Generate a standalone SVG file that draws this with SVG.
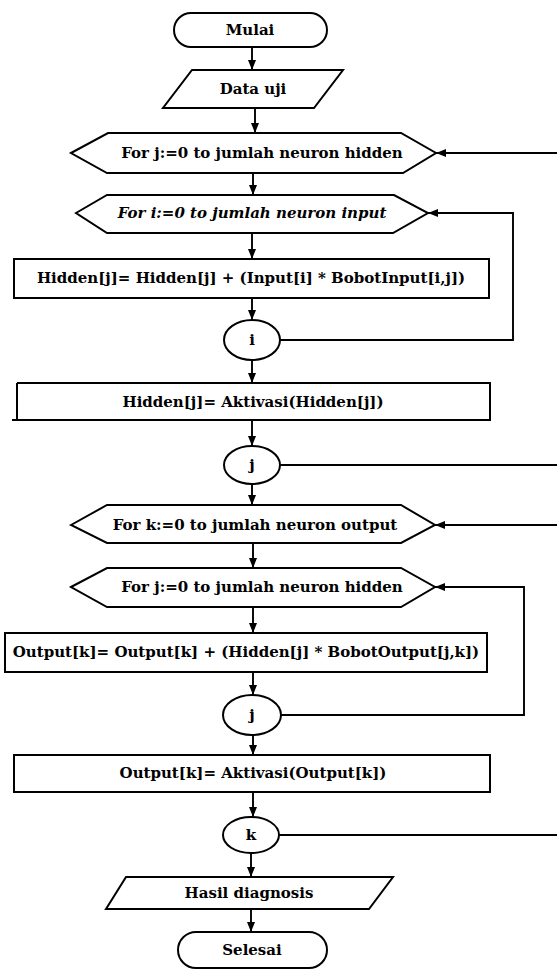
<svg xmlns="http://www.w3.org/2000/svg" width="557" height="971" viewBox="0 0 557 971">
  <style>
    .shape { fill: #ffffff; stroke: #000000; stroke-width: 2; }
    .flow { fill: none; stroke: #000000; stroke-width: 1.9; }
    .arrow { marker-end: url(#head); }
    text { font-family: "DejaVu Serif", "Liberation Serif", serif; font-weight: bold; font-size: 15px; text-anchor: middle; fill: #000000; }
    .it { font-style: italic; }
  </style>
  <defs>
    <marker id="head" viewBox="0 0 10 10" refX="10" refY="5" markerWidth="10" markerHeight="10" markerUnits="userSpaceOnUse" orient="auto">
      <path d="M0,1 L10,5 L0,9 z" fill="#000000"/>
    </marker>
  </defs>
  <rect width="557" height="971" fill="#ffffff"/>

  <!-- connectors -->
  <g id="connectors">
    <line class="flow arrow" x1="252" y1="47" x2="252" y2="70"/>
    <line class="flow arrow" x1="255" y1="108" x2="255" y2="133"/>
    <line class="flow arrow" x1="253" y1="173" x2="253" y2="195"/>
    <line class="flow arrow" x1="252" y1="233" x2="252" y2="259"/>
    <line class="flow arrow" x1="252" y1="298" x2="252" y2="320"/>
    <line class="flow arrow" x1="252" y1="360" x2="252" y2="383"/>
    <line class="flow arrow" x1="252" y1="420" x2="252" y2="446"/>
    <line class="flow arrow" x1="252" y1="484" x2="252" y2="505"/>
    <line class="flow arrow" x1="253" y1="543" x2="253" y2="568"/>
    <line class="flow arrow" x1="253" y1="607" x2="253" y2="633"/>
    <line class="flow arrow" x1="253" y1="672" x2="253" y2="695"/>
    <line class="flow arrow" x1="253" y1="735" x2="253" y2="755"/>
    <line class="flow arrow" x1="253" y1="792" x2="253" y2="817"/>
    <line class="flow arrow" x1="251" y1="853" x2="251" y2="877"/>
    <line class="flow arrow" x1="251" y1="909" x2="251" y2="932"/>
    <!-- inner loop over i -->
    <polyline class="flow arrow" points="280,340 513,340 513,213 428,213"/>
    <!-- outer loop over j (hidden) -->
    <line class="flow" x1="280" y1="465" x2="557" y2="465"/>
    <line class="flow arrow" x1="557" y1="153" x2="436" y2="153"/>
    <!-- inner loop over j (output stage) -->
    <polyline class="flow arrow" points="281,715 524,715 524,587 435,587"/>
    <!-- outer loop over k -->
    <line class="flow" x1="279" y1="835" x2="557" y2="835"/>
    <line class="flow arrow" x1="557" y1="525" x2="435" y2="525"/>
  </g>

  <g id="mulai">
    <rect class="shape" x="174" y="13" width="153" height="34" rx="17"/>
    <text x="250" y="35">Mulai</text>
  </g>
  <g id="data-uji">
    <polygon class="shape" points="192,70 343,70 314,108 163,108"/>
    <text x="253" y="94">Data uji</text>
  </g>
  <g id="for-j-hidden">
    <polygon class="shape" points="71,153 108,133 401,133 436,153 403,173 107,173"/>
    <text x="262" y="158">For j:=0 to jumlah neuron hidden</text>
  </g>
  <g id="for-i-input">
    <polygon class="shape" points="76,213 107,195 394,195 428,213 393,233 107,233"/>
    <text class="it" x="252" y="218">For i:=0 to jumlah neuron input</text>
  </g>
  <g id="hidden-sum">
    <rect class="shape" x="14" y="259" width="475" height="39"/>
    <text x="251" y="283">Hidden[j]= Hidden[j] + (Input[i] * BobotInput[i,j])</text>
  </g>
  <g id="next-i">
    <ellipse class="shape" cx="252" cy="340" rx="28" ry="20"/>
    <text x="252" y="345">i</text>
  </g>
  <g id="hidden-activation">
    <path class="shape" d="M17,383 H490 V420 H12 M17,383 V419"/>
    <text x="253" y="407">Hidden[j]= Aktivasi(Hidden[j])</text>
  </g>
  <g id="next-j-hidden">
    <ellipse class="shape" cx="252" cy="465" rx="28" ry="19"/>
    <text x="252" y="470">j</text>
  </g>
  <g id="for-k-output">
    <polygon class="shape" points="71,525 107,505 401,505 435,525 401,543 107,543"/>
    <text x="255" y="530">For k:=0 to jumlah neuron output</text>
  </g>
  <g id="for-j-output">
    <polygon class="shape" points="71,587 107,568 401,568 435,587 401,607 107,607"/>
    <text x="262" y="592">For j:=0 to jumlah neuron hidden</text>
  </g>
  <g id="output-sum">
    <rect class="shape" x="5" y="633" width="482" height="39"/>
    <text x="246" y="657">Output[k]= Output[k] + (Hidden[j] * BobotOutput[j,k])</text>
  </g>
  <g id="next-j-output">
    <ellipse class="shape" cx="252" cy="715" rx="29" ry="20"/>
    <text x="252" y="720">j</text>
  </g>
  <g id="output-activation">
    <rect class="shape" x="14" y="755" width="476" height="37"/>
    <text x="253" y="778">Output[k]= Aktivasi(Output[k])</text>
  </g>
  <g id="next-k">
    <ellipse class="shape" cx="251" cy="835" rx="28" ry="18"/>
    <text x="251" y="840">k</text>
  </g>
  <g id="hasil-diagnosis">
    <polygon class="shape" points="126,877 393,877 369,909 106,909"/>
    <text x="249" y="898">Hasil diagnosis</text>
  </g>
  <g id="selesai">
    <rect class="shape" x="178" y="932" width="149" height="36" rx="18"/>
    <text x="252" y="955">Selesai</text>
  </g>
</svg>
